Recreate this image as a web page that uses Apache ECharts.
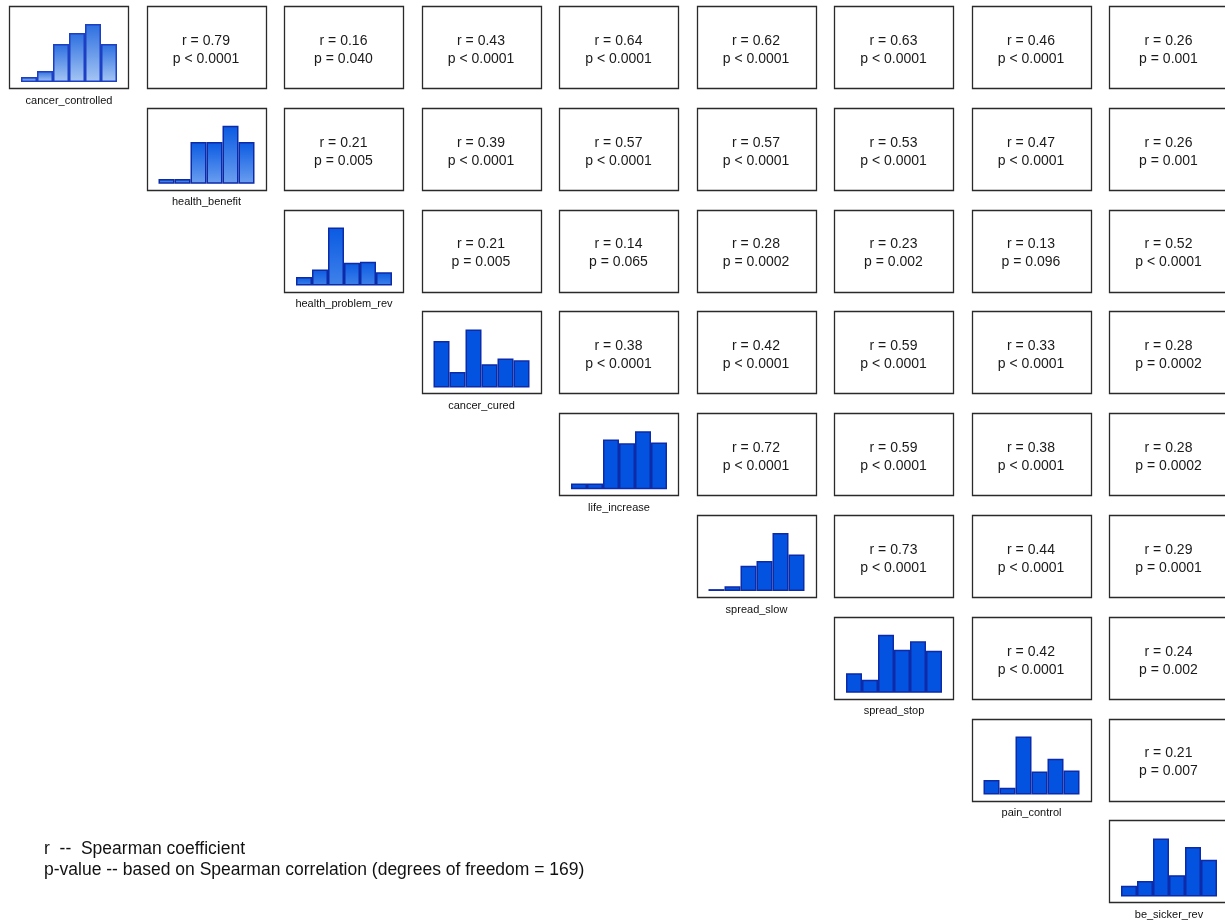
<!DOCTYPE html>
<html>
<head>
<meta charset="utf-8">
<script src="https://cdn.jsdelivr.net/npm/echarts@6/dist/echarts.min.js"></script>
<style>
  html, body { margin: 0; padding: 0; background: #fff; }
  #chart { width: 1225px; height: 922px; }
</style>
</head>
<body>
<div id="chart"></div>
<script>
// variable names (diagonal)
const variables = ['cancer_controlled', 'health_benefit', 'health_problem_rev', 'cancer_cured',
  'life_increase', 'spread_slow', 'spread_stop', 'pain_control', 'be_sicker_rev']
const bins = ['1', '2', '3', '4', '5', '6']

// histogram heights
const histCounts = [
  [5, 11, 38, 49, 58, 38],
  [5, 5, 44, 44, 61, 44],
  [9, 17, 61, 24, 25, 14],
  [48, 16, 60, 24, 30, 28],
  [6, 6, 53, 49, 62, 50],
  [2, 5, 27, 32, 62, 39],
  [21, 14, 62, 46, 55, 45],
  [15, 7, 60, 24, 37, 25],
  [11, 16, 60, 22, 51, 38]
]

// upper triangle, row i holds columns i+1 .. 8
const rValues = [
  ['0.79', '0.16', '0.43', '0.64', '0.62', '0.63', '0.46', '0.26'],
  ['0.21', '0.39', '0.57', '0.57', '0.53', '0.47', '0.26'],
  ['0.21', '0.14', '0.28', '0.23', '0.13', '0.52'],
  ['0.38', '0.42', '0.59', '0.33', '0.28'],
  ['0.72', '0.59', '0.38', '0.28'],
  ['0.73', '0.44', '0.29'],
  ['0.42', '0.24'],
  ['0.21']
]
const pValues = [
  ['< 0.0001', '= 0.040', '< 0.0001', '< 0.0001', '< 0.0001', '< 0.0001', '< 0.0001', '= 0.001'],
  ['= 0.005', '< 0.0001', '< 0.0001', '< 0.0001', '< 0.0001', '< 0.0001', '= 0.001'],
  ['= 0.005', '= 0.065', '= 0.0002', '= 0.002', '= 0.096', '< 0.0001'],
  ['< 0.0001', '< 0.0001', '< 0.0001', '< 0.0001', '= 0.0002'],
  ['< 0.0001', '< 0.0001', '< 0.0001', '= 0.0002'],
  ['< 0.0001', '< 0.0001', '= 0.0001'],
  ['< 0.0001', '= 0.002'],
  ['= 0.007']
]

const footnotes = [
  'r  --  Spearman coefficient',
  'p-value -- based on Spearman correlation (degrees of freedom = 169)'
]

// layout
const x0 = 9, y0 = 6, stepX = 137.5, stepY = 101.8
const boxW = 119, boxH = 82
const font = '"Liberation Sans", Arial, sans-serif'

// bar fill per histogram, first ones fade to light at the bottom
function barFill(i) {
  const bottoms = ['#a6c6f3', '#6c9ff0', '#3f82ea']
  if (i < 3) {
    return new echarts.graphic.LinearGradient(0, 0, 0, 1, [
      { offset: 0, color: i === 0 ? '#2c6fe0' : '#0a5ae2' },
      { offset: 1, color: bottoms[i] }
    ])
  }
  return '#0352e0'
}

const grids = [], xAxes = [], yAxes = [], series = [], graphics = []

variables.forEach((name, i) => {
  const bx = x0 + stepX * i
  const by = y0 + stepY * i
  grids.push({ left: bx + 12, top: by + 18, width: boxW - 23, height: boxH - 24 })
  xAxes.push({
    gridIndex: i, type: 'category', data: bins,
    axisLine: { show: false }, axisTick: { show: false }, axisLabel: { show: false },
    name: name, nameLocation: 'middle', nameGap: 13,
    nameTextStyle: { fontSize: 11, color: '#111', fontFamily: font }
  })
  yAxes.push({
    gridIndex: i, type: 'value', min: 0, max: Math.max(...histCounts[i]),
    axisLine: { show: false }, axisTick: { show: false }, axisLabel: { show: false },
    splitLine: { show: false }
  })
  series.push({
    type: 'bar', xAxisIndex: i, yAxisIndex: i, data: histCounts[i],
    barCategoryGap: '0%', silent: true,
    itemStyle: { color: barFill(i), borderColor: i === 0 ? '#1d3fc4' : '#0d2aa8', borderWidth: 1.5 }
  })
})

// boxes and coefficient text
for (let row = 0; row < variables.length; row++) {
  for (let col = row; col < variables.length; col++) {
    const bx = x0 + stepX * col
    const by = y0 + stepY * row
    graphics.push({
      type: 'rect', z: 0, silent: true,
      shape: { x: Math.round(bx) + 0.5, y: Math.round(by) + 0.5, width: boxW, height: boxH },
      style: { fill: 'transparent', stroke: '#2a2a2a', lineWidth: 1.3 }
    })
    if (col > row) {
      const k = col - row - 1
      graphics.push({
        type: 'text', silent: true, x: bx + boxW / 2, y: by + 35,
        style: { text: 'r = ' + rValues[row][k], fill: '#1a1a1a', font: '14px ' + font, align: 'center', verticalAlign: 'middle' }
      })
      graphics.push({
        type: 'text', silent: true, x: bx + boxW / 2, y: by + 53,
        style: { text: 'p ' + pValues[row][k], fill: '#1a1a1a', font: '14px ' + font, align: 'center', verticalAlign: 'middle' }
      })
    }
  }
}

footnotes.forEach((t, i) => {
  graphics.push({
    type: 'text', silent: true, x: 44, y: 849 + i * 21,
    style: { text: t, fill: '#111', font: '17.5px ' + font, verticalAlign: 'middle' }
  })
})

const myChart = echarts.init(document.getElementById('chart'))
myChart.setOption({
  animation: false,
  grid: grids,
  xAxis: xAxes,
  yAxis: yAxes,
  series: series,
  graphic: graphics
})
</script>
</body>
</html>
